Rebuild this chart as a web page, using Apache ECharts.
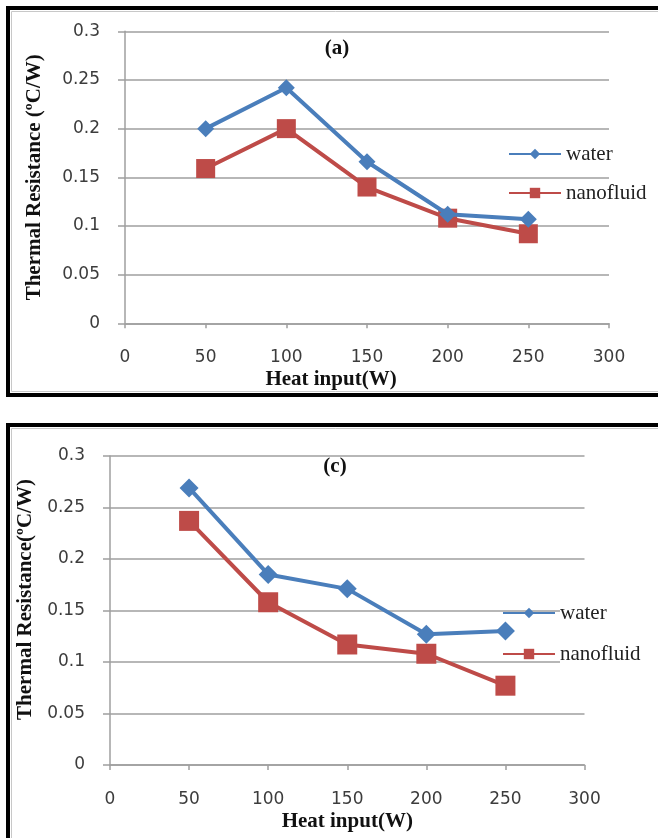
<!DOCTYPE html>
<html>
<head>
<meta charset="utf-8">
<script src="https://cdn.jsdelivr.net/npm/echarts@6/dist/echarts.min.js"></script>
<style>
html,body{margin:0;padding:0;background:#fff;}
#chart{width:658px;height:838px;}
</style>
</head>
<body>
<div id="chart"></div>
<script>
// ---- data ----
const heatInput = [50, 100, 150, 200, 250];
const waterA = [0.200, 0.242, 0.166, 0.112, 0.107];
const nanofluidA = [0.159, 0.200, 0.140, 0.108, 0.092];
const waterC = [0.269, 0.185, 0.171, 0.127, 0.130];
const nanofluidC = [0.237, 0.158, 0.117, 0.108, 0.077];
const seriesNames = ['water', 'nanofluid'];
const panelTitles = ['(a)', '(c)'];
const yTitles = ['Thermal Resistance (ºC/W)', 'Thermal Resistance(ºC/W)'];
const xTitle = 'Heat input(W)';

const BLUE = '#4a7ebb';
const RED = '#be4b48';
const GRID_C = '#9f9f9f';

function pairs(xs, ys) { return xs.map((x, i) => [x, ys[i]]); }

function xAxisCfg(gridIndex, padRight) {
  return {
    type: 'value', gridIndex, min: 0, max: 300, interval: 50,
    name: xTitle, nameLocation: 'middle', nameGap: 46,
    nameTextStyle: { fontFamily: 'Liberation Serif', fontWeight: 'bold', fontSize: 21, color: '#111',
      padding: [0, padRight, 0, 0], verticalAlign: 'top' },
    axisLine: { show: true, lineStyle: { color: GRID_C, width: 1.5 } },
    axisTick: { show: true, inside: false, length: 5, lineStyle: { color: GRID_C, width: 1.5 } },
    splitLine: { show: false },
    axisLabel: { margin: 26, fontFamily: 'DejaVu Sans', fontSize: 17, color: '#3c3c3c', verticalAlign: 'top' }
  };
}
function yAxisCfg(gridIndex, title, nameGap, padLeft) {
  return {
    type: 'value', gridIndex, min: 0, max: 0.3, interval: 0.05,
    name: title, nameLocation: 'middle', nameGap,
    nameTextStyle: { fontFamily: 'Liberation Serif', fontWeight: 'bold', fontSize: 21, color: '#111',
      padding: [0, 0, 0, padLeft] },
    axisLine: { show: true, lineStyle: { color: GRID_C, width: 1.5 } },
    axisTick: { show: true, inside: false, length: 7, lineStyle: { color: GRID_C, width: 1.5 } },
    splitLine: { show: true, lineStyle: { color: GRID_C, width: 1.5 } },
    axisLabel: { margin: 25, fontFamily: 'DejaVu Sans', fontSize: 17, color: '#3c3c3c' }
  };
}
function lineSeries(name, xi, data, color, symbol, size) {
  return {
    type: 'line', name, xAxisIndex: xi, yAxisIndex: xi, data,
    symbol, symbolSize: size, showSymbol: true,
    lineStyle: { color, width: 4 }, itemStyle: { color },
    emphasis: { disabled: true }, animation: false, z: symbol === 'rect' ? 3 : 4
  };
}
function legendCfg(name, left, top) {
  return {
    data: [name], left, top, orient: 'vertical', padding: 0,
    itemWidth: 52, itemHeight: 13, itemGap: 5,
    lineStyle: { width: 2 },
    selectedMode: false,
    textStyle: { fontFamily: 'Liberation Serif', fontSize: 21, color: '#222', backgroundColor: '#fff' }
  };
}

const chart = echarts.init(document.getElementById('chart'), null, { renderer: 'canvas' });
chart.setOption({
  backgroundColor: '#fff',
  animation: false,
  grid: [
    { left: 125, right: 49, top: 31.3, height: 292, containLabel: false },
    { left: 110, right: 73.5, top: 456, height: 309, containLabel: false }
  ],
  xAxis: [xAxisCfg(0, 72), xAxisCfg(1, 0)],
  yAxis: [yAxisCfg(0, yTitles[0], 80, 0), yAxisCfg(1, yTitles[1], 68, 22)],
  legend: [
    legendCfg(seriesNames[0], 508, 143.5),
    legendCfg(seriesNames[1], 508, 182.5),
    legendCfg(seriesNames[0], 502, 602.5),
    legendCfg(seriesNames[1], 502, 643.5)
  ],
  series: [
    lineSeries(seriesNames[0], 0, pairs(heatInput, waterA), BLUE, 'diamond', 17),
    lineSeries(seriesNames[1], 0, pairs(heatInput, nanofluidA), RED, 'rect', 19),
    lineSeries(seriesNames[0], 1, pairs(heatInput, waterC), BLUE, 'diamond', 19),
    lineSeries(seriesNames[1], 1, pairs(heatInput, nanofluidC), RED, 'rect', 20)
  ],
  graphic: [
    { type: 'rect', shape: { x: 8, y: 8, width: 700, height: 387 }, silent: true, z: -10,
      style: { fill: null, stroke: '#000', lineWidth: 4 } },
    { type: 'rect', shape: { x: 11.5, y: 11.5, width: 700, height: 380 }, silent: true, z: -10,
      style: { fill: null, stroke: '#c8c8c8', lineWidth: 1 } },
    { type: 'rect', shape: { x: 8, y: 425, width: 700, height: 500 }, silent: true, z: -10,
      style: { fill: null, stroke: '#000', lineWidth: 4 } },
    { type: 'rect', shape: { x: 11.5, y: 428.5, width: 700, height: 500 }, silent: true, z: -10,
      style: { fill: null, stroke: '#c8c8c8', lineWidth: 1 } },
    { type: 'text', x: 337, y: 49, silent: true,
      style: { text: panelTitles[0], textAlign: 'center', textVerticalAlign: 'middle',
        font: 'bold 21px "Liberation Serif"', fill: '#111' } },
    { type: 'text', x: 335, y: 467, silent: true,
      style: { text: panelTitles[1], textAlign: 'center', textVerticalAlign: 'middle',
        font: 'bold 21px "Liberation Serif"', fill: '#111' } }
  ]
});
</script>
</body>
</html>
